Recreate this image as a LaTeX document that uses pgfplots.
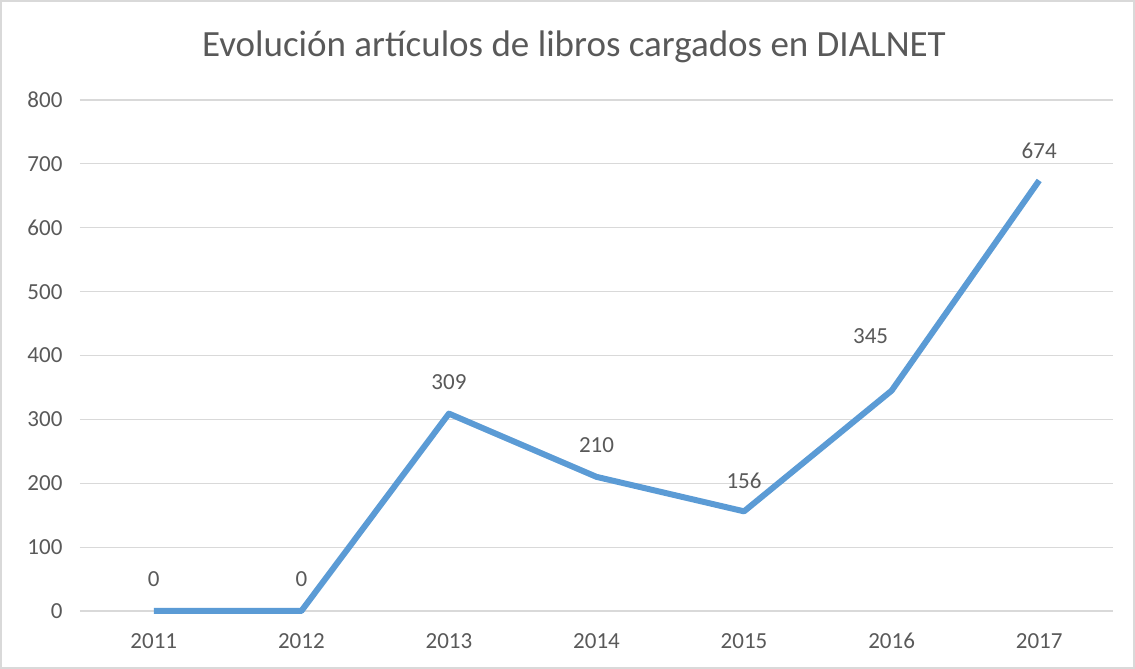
\documentclass[border=0pt]{standalone}
\usepackage{fontspec}
\setmainfont{Carlito}
\usepackage{pgfplots}
\pgfplotsset{compat=1.18}
\definecolor{txtgray}{HTML}{595959}
\definecolor{gridgray}{HTML}{D9D9D9}
\definecolor{xlblue}{HTML}{5B9BD5}
\definecolor{framegray}{HTML}{D9D9D9}

\begin{document}
\begin{tikzpicture}[x=1pt,y=1pt]
\useasboundingbox (0,0) rectangle (1135,669);
\draw[framegray, line width=1.5pt] (1,1) rectangle (1134,668);
\node[text=txtgray, font=\fontsize{37}{44}\selectfont] at (574,622) {Evolución artículos de libros cargados en DIALNET};
\begin{axis}[
  at={(80pt,58pt)}, anchor=south west,
  scale only axis, width=1033pt, height=511pt,
  xmin=-0.5, xmax=6.5, ymin=0, ymax=800,
  xtick={0,...,6},
  xticklabels={2011,2012,2013,2014,2015,2016,2017},
  ytick={0,100,...,800},
  axis line style={draw=none},
  axis x line*=bottom,
  x axis line style={draw=gridgray, line width=1.2pt},
  major tick length=0pt,
  ymajorgrids, grid style={draw=gridgray, line width=1.2pt},
  tick label style={text=txtgray, font=\fontsize{23}{27}\selectfont},
  /pgf/number format/assume math mode=true,
  xticklabel style={yshift=-18pt, text height=16pt, text depth=0pt},
  yticklabel style={xshift=-14pt},
  clip=false,
]
\addplot[color=xlblue, line width=6pt, line join=round, mark=none] coordinates {
(0,0) (1,0) (2,309) (3,210) (4,156) (5,345) (6,674)};
\tikzset{lbl/.style={text=txtgray, font=\fontsize{23}{27}\selectfont}}
\node[lbl] at (axis cs:0,0)   [yshift=32pt] {0};
\node[lbl] at (axis cs:1,0)   [yshift=32pt] {0};
\node[lbl] at (axis cs:2,309) [yshift=32pt] {309};
\node[lbl] at (axis cs:3,210) [yshift=32pt] {210};
\node[lbl] at (axis cs:4,156) [yshift=31pt] {156};
\node[lbl] at (axis cs:5,345) [xshift=-21pt, yshift=55pt] {345};
\node[lbl] at (axis cs:6,674) [yshift=30pt] {674};
\end{axis}
\end{tikzpicture}
\end{document}
